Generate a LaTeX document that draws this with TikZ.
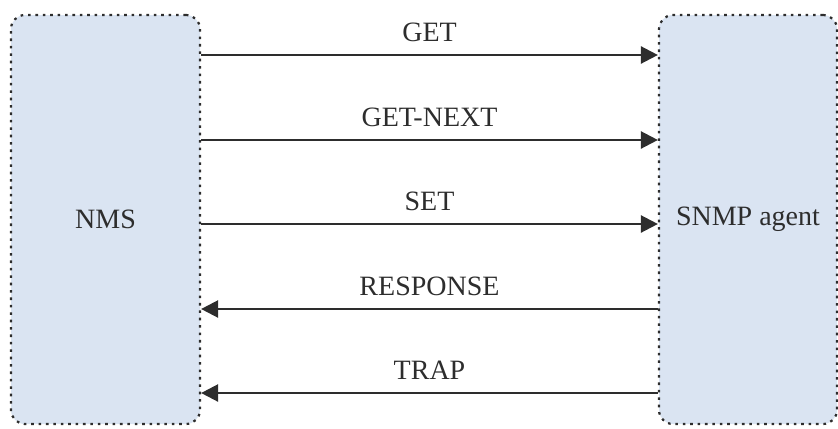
\documentclass[tikz,border=0pt]{standalone}
\usepackage{fontspec}
\setmainfont{Liberation Serif}
\usetikzlibrary{arrows.meta}
\definecolor{boxblue}{RGB}{218,228,242}
\definecolor{inkgray}{RGB}{45,45,45}

\begin{document}
\begin{tikzpicture}[x=0.5pt,y=-0.5pt,
    side/.style={draw=inkgray, fill=boxblue, line width=1.1pt, dash pattern=on 1.3pt off 2.4pt,
        rounded corners=7pt, inner sep=0pt, font=\fontsize{14}{16}\selectfont, text=inkgray},
    msg/.style={draw=inkgray, line width=1.2pt, -{Triangle[length=8.5pt,width=8.5pt]}},
    lbl/.style={above=6pt, inner sep=0pt, font=\fontsize{14}{16}\selectfont, text=inkgray}]
	\useasboundingbox (0,0) rectangle (838,428);
    \node[side, minimum width=189*0.5pt, minimum height=409*0.5pt] (nms) at (105.5,219.5) {NMS};
    \node[side, minimum width=178*0.5pt, minimum height=409*0.5pt] (agent) at (748,219.5) {SNMP agent};
    % requests
    \draw[msg] (nms.east |- 0,55) -- node[lbl] {GET} (agent.west |- 0,55);
    \draw[msg] (nms.east |- 0,140) -- node[lbl] {GET-NEXT} (agent.west |- 0,140);
    \draw[msg] (nms.east |- 0,224) -- node[lbl] {SET} (agent.west |- 0,224);
    % replies
    \draw[msg] (agent.west |- 0,309) -- node[lbl] {RESPONSE} (nms.east |- 0,309);
    \draw[msg] (agent.west |- 0,393) -- node[lbl] {TRAP} (nms.east |- 0,393);
\end{tikzpicture}
\end{document}
